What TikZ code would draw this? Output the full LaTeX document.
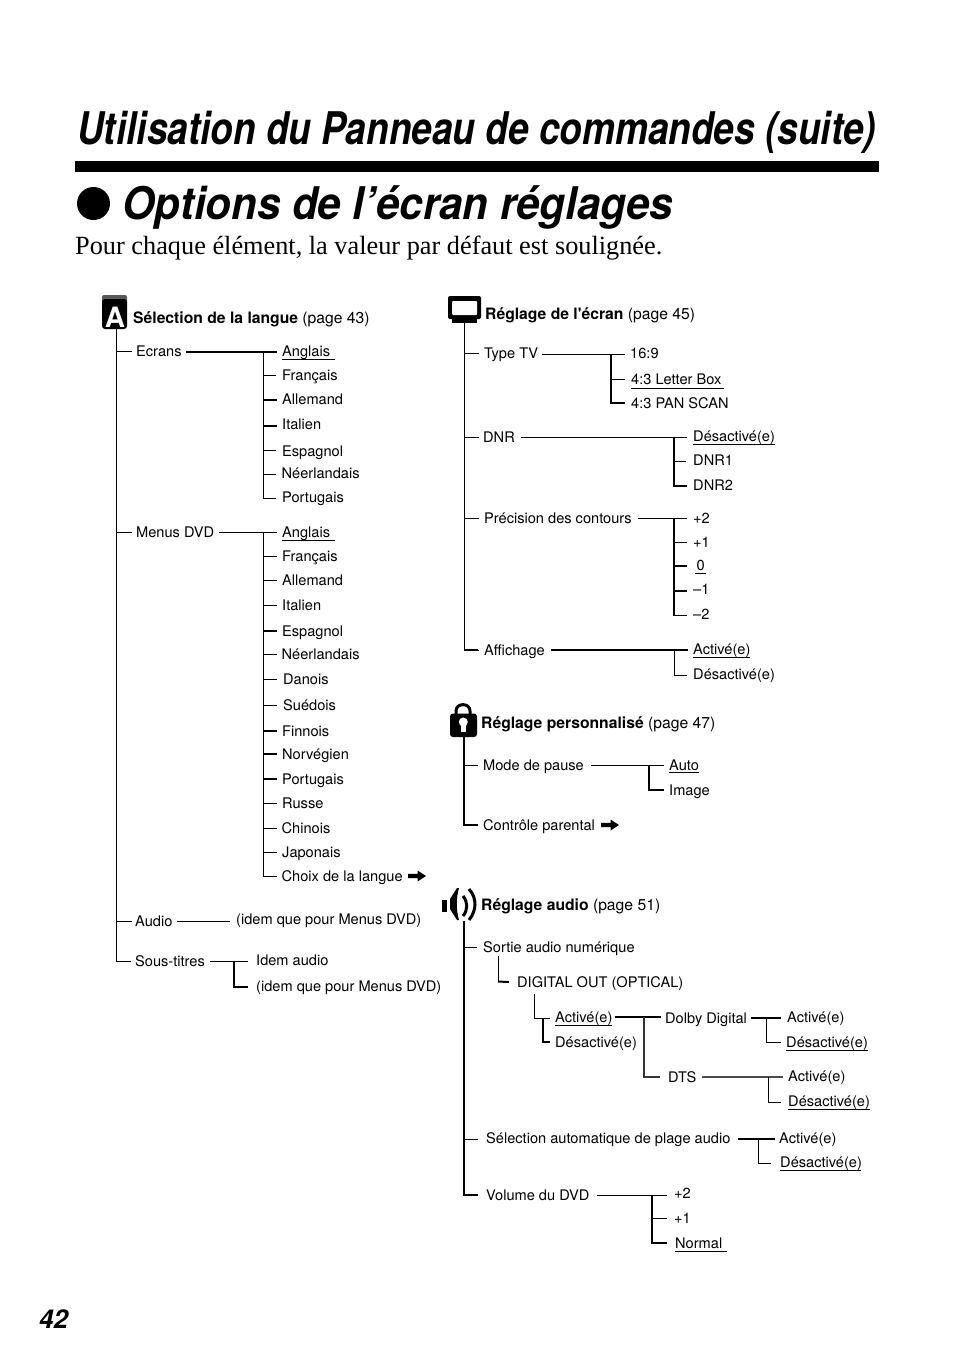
\documentclass[tikz,border=0pt]{standalone}
\usepackage{fontspec}
\usetikzlibrary{arrows.meta}
\setmainfont{TeX Gyre Heros}
\newfontfamily\serifbody{Liberation Serif}
\tikzset{
  x=1pt,y=-1pt,
  lbl/.style={anchor=west,inner ysep=0pt,inner xsep=0pt,text height=12pt,text depth=2pt,font=\fontsize{14.6}{16}\selectfont},
  head/.style={anchor=west,inner sep=0pt,text height=12pt,text depth=2pt,font=\fontsize{15.7}{17}\selectfont},
  bigtitle/.style={anchor=base west,inner sep=0pt,font=\bfseries\itshape\fontsize{45}{48}\selectfont},
  thin line/.style={line width=1pt,black},
  mid line/.style={line width=1.4pt,black},
  thick line/.style={line width=2pt,black},
  grey line/.style={line width=1.3pt,black!70},
  uline/.style={line width=1pt,black},
}
\newcommand{\lab}[4]{\node[lbl] (#1) at (#2,#3) {#4};}
\newcommand{\under}[4]{\coordinate (#1a) at (#2,#4); \coordinate (#1b) at (#3,#4); \draw[uline] (#1a) -- (#1b);}
\newcommand{\fatarrow}[2]{\fill (#1,#2-2.2) -- (#1+9.5,#2-2.2) -- (#1+9.5,#2-5.5) -- (#1+18,#2) -- (#1+9.5,#2+5.5) -- (#1+9.5,#2+2.2) -- (#1,#2+2.2) -- cycle;}
\begin{document}
\begin{tikzpicture}
\useasboundingbox (0,0) rectangle (954,1357);
% header
\node[bigtitle] (title) at (77,144) {\scalebox{0.822}[1]{Utilisation du Panneau de commandes (suite)}};
\fill (75,161) rectangle (879,172);
\fill (93.5,203.5) circle (16.5);
\node[bigtitle] (opt) at (122,219) {\scalebox{0.934}[1]{Options de l’écran réglages}};
\node[anchor=base west,inner sep=0pt,font=\serifbody\fontsize{26.3}{28}\selectfont] (sub) at (75,254) {Pour chaque élément, la valeur par défaut est soulignée.};
\node[anchor=base west,inner sep=0pt,font=\bfseries\itshape\fontsize{26}{28}\selectfont] (pg) at (39,1328) {42};

% ---- icon A
\fill[black!65,rounded corners=2pt] (102,295) rectangle (127,305);
\fill[black,rounded corners=3pt] (102,299) rectangle (127,329);
\node[anchor=center,inner sep=0pt,white,font=\bfseries\fontsize{28}{29}\selectfont] (iconA) at (115,317) {A};
\node[head] (hA) at (133,318) {\textbf{Sélection de la langue} (page 43)};

% ---- left tree
\coordinate (ltop) at (116,329);
\lab{ecr}{136}{351}{Ecrans}
\lab{mdvd}{136}{532}{Menus DVD}
\lab{aud}{135}{921}{Audio}
\lab{sous}{135}{961}{Sous-titres}
\draw[thin line] (ltop) |- ([xshift=-4pt]sous.west);
\draw[thin line] (ltop |- ecr.west) -- ([xshift=-4pt]ecr.west);
\draw[thin line] (ltop |- mdvd.west) -- ([xshift=-4pt]mdvd.west);
\draw[thin line] (ltop |- aud.west) -- ([xshift=-3pt]aud.west);

\lab{e1}{282}{351}{Anglais}
\lab{e2}{282}{375}{Français}
\lab{e3}{282}{399}{Allemand}
\lab{e4}{282}{424}{Italien}
\lab{e5}{282}{451}{Espagnol}
\lab{e6}{281.500}{473}{Néerlandais}
\lab{e7}{282}{497}{Portugais}
\under{ue}{282}{335}{359}
\coordinate (etr) at (263,352);
\draw[thick line] ([xshift=4pt]ecr.east |- etr) -- (277,352);
\draw[thin line] (etr) |- (276,498);
\draw[thin line] (etr |- e2.west) -- (276,375);
\draw[thick line] (263,400) -- (277,400);
\draw[thick line] (263,426) -- (277,426);
\draw[thin line] (263,450) -- (276,450);
\draw[thin line] (263,474) -- (276,474);

\lab{m1}{282}{532}{Anglais}
\lab{m2}{282}{556}{Français}
\lab{m3}{282}{580}{Allemand}
\lab{m4}{282}{605}{Italien}
\lab{m5}{282}{631}{Espagnol}
\lab{m6}{281.500}{654}{Néerlandais}
\lab{m7}{283}{679}{Danois}
\lab{m8}{283}{705}{Suédois}
\lab{m9}{282}{731}{Finnois}
\lab{m10}{282}{754}{Norvégien}
\lab{m11}{282}{779}{Portugais}
\lab{m12}{282}{803}{Russe}
\lab{m13}{281.500}{828}{Chinois}
\lab{m14}{282}{852}{Japonais}
\lab{m15}{281.500}{876}{Choix de la langue}
\under{um}{282}{335}{540}
\coordinate (mtr) at (263,532);
\draw[thin line] ([xshift=5pt]mdvd.east) -- (277,532);
\draw[thin line] (mtr) |- (277,876);
\foreach \n in {m2,m3,m4,m6,m7,m8,m12,m13,m14}
  \draw[thin line] (mtr |- \n.west) -- (277,0 |- \n.west);
\foreach \n in {m5,m9,m10,m11}
  \draw[thick line] (mtr |- \n.west) -- (277,0 |- \n.west);
\fatarrow{408}{876}

\lab{ai}{236}{919}{(idem que pour Menus DVD)}
\draw[thin line] ([xshift=4pt]aud.east) -- (230,921);
\lab{s1}{256}{960}{Idem audio}
\lab{s2}{256}{986}{(idem que pour Menus DVD)}
\draw[thin line] ([xshift=5pt]sous.east) -- (248,961);
\draw[thick line] (234,961) |- (248,987);

% ---- icon screen
\fill[black,rounded corners=2pt] (448,296) rectangle (481,319);
\fill[white,rounded corners=1pt] (452,301) rectangle (477,315);
\fill[black] (452,318) rectangle (477,323);
\node[head] (hS) at (485,314) {\textbf{Réglage de l\textquotesingle écran} (page 45)};
\coordinate (strunk) at (464,323);
\lab{t1}{484}{353}{Type TV}
\lab{t2}{483}{437}{DNR}
\lab{t3}{484}{518}{Précision des contours}
\lab{t4}{484}{650}{Affichage}
\draw[thin line] (strunk) |- (479,650);
\draw[thick line] (464,650) -- (478,650);
\foreach \n in {t1,t2,t3}
  \draw[thin line] (strunk |- \n.west) -- (479,0 |- \n.west);

\lab{tv1}{630}{353}{16:9}
\lab{tv2}{631}{379}{4:3 Letter Box}
\lab{tv3}{631}{403}{4:3 PAN SCAN}
\under{utv}{631}{724}{388}
\coordinate (tvj) at (611,354);
\draw[thin line] ([xshift=4pt]t1.east |- tvj) -- (625,354);
\draw[thick line] (tvj) |- (625,403);
\draw[thin line] (611,379) -- (625,379);

\lab{d1}{693}{436}{Désactivé(e)}
\lab{d2}{693}{460}{DNR1}
\lab{d3}{693}{485}{DNR2}
\under{ud}{693}{775}{444}
\draw[thin line] ([xshift=6pt]t2.east) -- (687,437);
\draw[thick line] (674,437) |- (687,486);
\draw[thin line] (674,461) -- (686,461);

\lab{p1}{693}{518}{+2}
\lab{p2}{693}{542}{+1}
\lab{p3}{696.500}{565}{0}
\lab{p4}{693}{589}{–1}
\lab{p5}{693}{614}{–2}
\under{up}{695}{706}{573}
\draw[thin line] ([xshift=6pt]t3.east) -- (687,518);
\draw[thick line] (674,518) -- (674,616);
\draw[thin line] (674,542) -- (687,542);
\draw[thick line] (674,566) -- (687,566);
\draw[thick line] (674,591) -- (687,591);
\draw[thin line] (674,615.500) -- (687,615.500);

\lab{a1}{693}{649}{Activé(e)}
\lab{a2}{693}{674}{Désactivé(e)}
\under{ua}{693}{750}{657}
\draw[thick line] ([xshift=6pt]t4.east) -- (688,650);
\draw[thin line] (674,650) |- (687,675);

% ---- icon lock
\draw[line width=3pt,black] (456,714) -- (456,711) .. controls (456,702.500) and (470,702.500) .. (470,711) -- (470,714);
\fill[black,rounded corners=3pt] (450,713.500) rectangle (477,737);
\fill[white] (463.300,722) circle (4.500);
\fill[white] (461,722) rectangle (465.600,732);
\node[head] (hL) at (481,723) {\textbf{Réglage personnalisé} (page 47)};
\coordinate (ltrunk) at (464,737);
\lab{l1}{483}{765}{Mode de pause}
\lab{l2}{483}{825}{Contrôle parental}
\draw[mid line] (ltrunk) |- ([xshift=-5pt]l2.west);
\draw[thin line] (ltrunk |- l1.west) -- ([xshift=-5pt]l1.west);
\lab{l11}{669}{765}{Auto}
\lab{l12}{669}{790}{Image}
\under{ul}{669}{699}{772}
\draw[thin line] ([xshift=7pt]l1.east) -- (664,765);
\draw[thick line] (649,765) |- (664,790);
\fatarrow{601}{825}

% ---- icon audio
\fill[black] (442,900) rectangle (447,912);
\fill[black] (450,899) -- (457,888) -- (459,888) .. controls (456,898) and (456,910) .. (459,920) -- (457,920) -- (450,909) -- cycle;
\draw[line width=3pt,black] (463,896) .. controls (468,902) and (468,910) .. (463,916);
\draw[line width=3pt,black] (469,889) .. controls (477,898) and (477,910) .. (469,920);
\node[head] (hV) at (481,905) {\textbf{Réglage audio} (page 51)};
\coordinate (vtrunk) at (464,921);
\lab{v1}{483}{947}{Sortie audio numérique}
\lab{v2}{486}{1138}{Sélection automatique de plage audio}
\lab{v3}{486}{1195}{Volume du DVD}
\draw[mid line] (vtrunk) |- ([xshift=-8pt]v3.west);
\draw[thin line] (vtrunk |- v1.west) -- ([xshift=-6pt]v1.west);
\draw[thin line] (464,1139) -- (478,1139);

\lab{dg}{517}{982}{DIGITAL OUT (OPTICAL)}
\draw[thin line] (498.500,956) -- (498.500,981.500);
\draw[thick line] (498,981.500) -- ([xshift=-8pt]dg.west);

\lab{o1}{555}{1017}{Activé(e)}
\lab{o2}{555}{1042}{Désactivé(e)}
\under{uo}{555}{612}{1025}
\draw[thin line] (534,994) |- (550,1018);
\draw[thick line] (543,1018) |- (550,1042);

\lab{dd}{665}{1018}{Dolby Digital}
\lab{dts}{668}{1077}{DTS}
\draw[thick line] (615,1017) -- (661,1017);
\draw[line width=1.3pt,black!80] (644,1017) |- (660,1077);

\lab{dd1}{787}{1017}{Activé(e)}
\lab{dd2}{786}{1042}{Désactivé(e)}
\under{udd}{786}{868}{1050}
\draw[thick line] ([xshift=4pt]dd.east) -- (781,1018);
\draw[thin line] (766,1018) |- (781,1042);

\lab{dt1}{788}{1076}{Activé(e)}
\lab{dt2}{788}{1101}{Désactivé(e)}
\under{udt}{788}{870}{1109}
\draw[grey line] ([xshift=5pt]dts.east) -- (783,1077);
\draw[thin line] (768,1077) |- (781,1102);

\lab{x1}{779}{1138}{Activé(e)}
\lab{x2}{780}{1162}{Désactivé(e)}
\under{ux}{780}{861}{1170}
\coordinate (xj) at (758,1139);
\draw[thick line] (738,1139) -- (775,1139);
\draw[thin line] (xj) |- (771,1163);

\lab{w1}{674}{1193}{+2}
\lab{w2}{674}{1218}{+1}
\lab{w3}{675}{1243}{Normal}
\under{uw}{675}{727}{1251}
\draw[thin line] ([xshift=7pt]v3.east) -- (667,1195);
\draw[thick line] (652,1195) |- (667,1243);
\draw[thin line] (652,1218) -- (667,1218);
\end{tikzpicture}
\end{document}
